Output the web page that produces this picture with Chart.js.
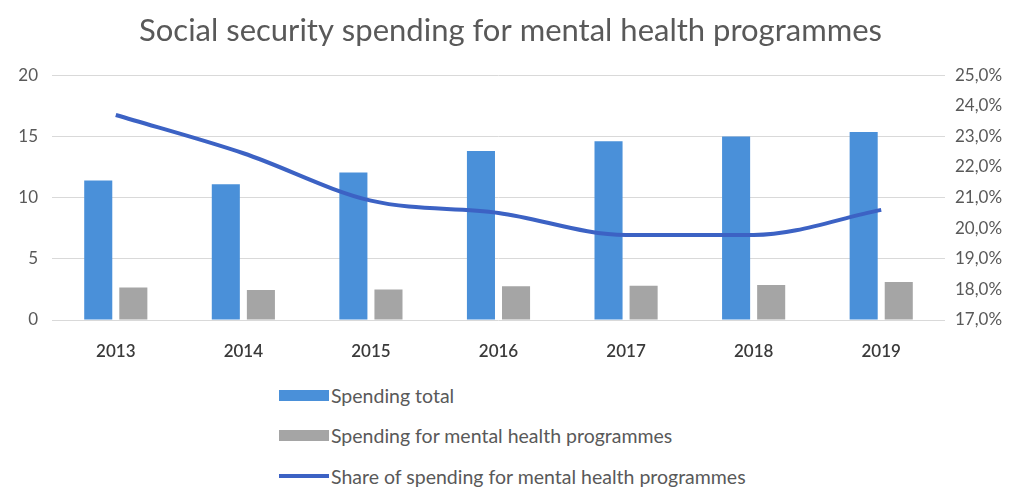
<!DOCTYPE html>
<html lang="en">
<head>
    <meta charset="UTF-8">
    <title>Social security spending for mental health programmes</title>
    <script src="https://cdn.jsdelivr.net/npm/chart.js"></script>
    <style>
        body { margin: 0; background: #fff; font-family: Lato, sans-serif; }
        #wrap { position: relative; width: 1021px; height: 487px; }
        #box { position: absolute; left: 0; top: 0; width: 1021px; height: 370px; }
        #legend { position: absolute; left: 279px; top: 375px; }
        .item { display: flex; align-items: center; height: 40.5px; font-size: 19.5px; color: #595959; }
        .swatch { width: 50px; margin-right: 2px; }
    </style>
</head>
<body>
<div id="wrap">
    <div id="box"><canvas id="chart"></canvas></div>
    <div id="legend"></div>
</div>
<script>
    const years = ['2013', '2014', '2015', '2016', '2017', '2018', '2019'];
    const spendingTotal = [11.4, 11.1, 12.05, 13.8, 14.6, 15.0, 15.35];
    const spendingMental = [2.65, 2.45, 2.5, 2.75, 2.8, 2.85, 3.1];
    const shareMental = [23.7, 22.45, 20.9, 20.5, 19.78, 19.78, 20.6]; // percent

    const ctx = document.getElementById('chart').getContext('2d');
    const chart = new Chart(ctx, {
        type: 'bar',
        data: {
            labels: years,
            datasets: [
                {
                    type: 'line',
                    label: 'Share of spending for mental health programmes',
                    data: shareMental,
                    yAxisID: 'y1',
                    borderColor: '#3c62c4',
                    backgroundColor: '#3c62c4',
                    borderWidth: 4,
                    pointRadius: 0,
                    cubicInterpolationMode: 'monotone',
                    order: 0
                },
                {
                    label: 'Spending total',
                    data: spendingTotal,
                    backgroundColor: '#4a90d9',
                    yAxisID: 'y',
                    order: 1
                },
                {
                    label: 'Spending for mental health programmes',
                    data: spendingMental,
                    backgroundColor: '#a5a5a5',
                    yAxisID: 'y',
                    order: 1
                }
            ]
        },
        options: {
            responsive: true,
            maintainAspectRatio: false,
            animation: false,
            datasets: { bar: { categoryPercentage: 0.55, barPercentage: 0.8 } },
            layout: { padding: 0 },
            plugins: {
                legend: { display: false },
                tooltip: { enabled: false },
                title: {
                    display: true,
                    text: 'Social security spending for mental health programmes',
                    color: '#595959',
                    font: { family: 'Lato', size: 31, weight: 'normal' },
                    padding: { top: 12, bottom: 26 }
                }
            },
            scales: {
                x: {
                    grid: { display: false, drawTicks: false },
                    border: { display: false },
                    ticks: { color: '#3a3a3a', padding: 21, font: { family: 'Lato', size: 17, weight: '600' } },
                    afterFit: s => { s.height = 50; }
                },
                y: {
                    position: 'left',
                    min: 0, max: 20,
                    ticks: { stepSize: 5, color: '#595959', padding: 14, font: { family: 'Lato', size: 17 } },
                    grid: { color: '#d9d9d9', drawTicks: false },
                    border: { display: false },
                    afterFit: s => { s.width = 52; }
                },
                y1: {
                    position: 'right',
                    min: 17, max: 25,
                    ticks: {
                        stepSize: 1, color: '#595959', padding: 10,
                        font: { family: 'Lato', size: 17 },
                        callback: v => v.toFixed(1).replace('.', ',') + '%'
                    },
                    grid: { display: false, drawTicks: false },
                    border: { display: false },
                    afterFit: s => { s.width = 76; }
                }
            }
        }
    });

    // legend stacked vertically below the chart, like the original
    const legendOrder = [1, 2, 0];
    const legendEl = document.getElementById('legend');
    legendOrder.forEach(i => {
        const ds = chart.data.datasets[i];
        const item = document.createElement('div');
        item.className = 'item';
        const sw = document.createElement('span');
        sw.className = 'swatch';
        sw.style.background = ds.type === 'line' ? ds.borderColor : ds.backgroundColor;
        sw.style.height = ds.type === 'line' ? '4px' : '11px';
        const txt = document.createElement('span');
        txt.textContent = ds.label;
        item.appendChild(sw);
        item.appendChild(txt);
        legendEl.appendChild(item);
    });
</script>
</body>
</html>
